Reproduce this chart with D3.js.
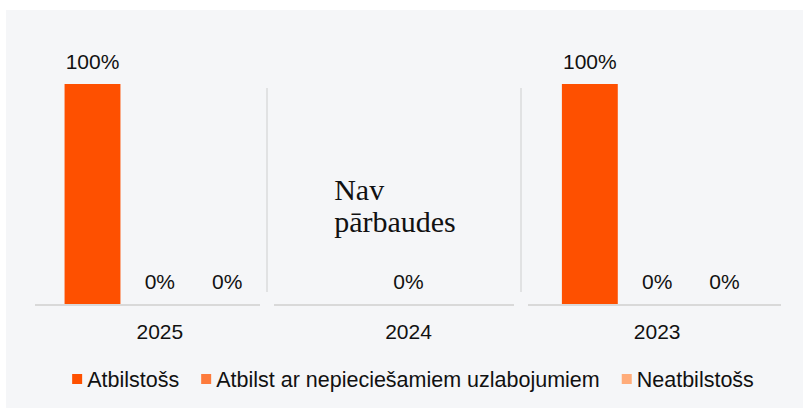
<!DOCTYPE html>
<html>
<head>
<meta charset="utf-8">
<script src="https://cdn.jsdelivr.net/npm/d3@7"></script>
<style>
  html, body { margin: 0; padding: 0; background: #ffffff; }
  svg { display: block; }
  text { font-family: "Liberation Sans", Arial, sans-serif; fill: #111; }
</style>
</head>
<body>
<div id="chart"></div>
<script>
// Category groups (years) and series
const years = ["2025", "2024", "2023"];
const series = ["Atbilstošs", "Atbilst ar nepieciešamiem uzlabojumiem", "Neatbilstošs"];
const colors = ["#fe5000", "#fd7b3c", "#ffac7a"];

// Share per series, per year (null = no value shown)
const values2025 = [1, 0, 0];
const values2024 = [null, 0, null];
const values2023 = [1, 0, 0];
const valuesByYear = [values2025, values2024, values2023];

// Annotation for year without an inspection
const noteYear = "2024";
const noteLines = ["Nav", "pārbaudes"];

const W = 803, H = 408;

const svg = d3.select("#chart")
  .append("svg")
  .attr("width", W)
  .attr("height", H);

// Light panel background
svg.append("rect")
  .attr("x", 6).attr("y", 10)
  .attr("width", W - 6).attr("height", H - 10)
  .attr("fill", "#f5f6f8");

// Scales
const x0 = d3.scaleBand()
  .domain(years)
  .range([35.5, 781.5]);

const x1 = d3.scaleBand()
  .domain(series)
  .range([-101, 101])
  .paddingInner(0.17)
  .paddingOuter(0.085);

const y = d3.scaleLinear()
  .domain([0, 1])
  .range([304, 84]);

const groupCenter = yr => x0(yr) + x0.bandwidth() / 2;

// Panel layout: baselines split around the separators
const panelEdges = [35, 267, 521, 781];
const gap = 7;
for (let i = 0; i < years.length; i++) {
  const a = panelEdges[i] + (i === 0 ? 0 : gap);
  const b = panelEdges[i + 1] - (i === years.length - 1 ? 0 : gap);
  svg.append("line")
    .attr("x1", a).attr("x2", b)
    .attr("y1", y(0) + 1).attr("y2", y(0) + 1)
    .attr("stroke", "#d9d9d9")
    .attr("stroke-width", 2);
}
panelEdges.slice(1, -1).forEach(px => {
  svg.append("line")
    .attr("x1", px).attr("x2", px)
    .attr("y1", 88).attr("y2", 292)
    .attr("stroke", "#dadbdd")
    .attr("stroke-width", 1.5);
});

// Flatten the data into one record per cell
const cells = [];
years.forEach((yr, gi) => {
  series.forEach((s, si) => {
    const v = valuesByYear[gi][si];
    if (v !== null) cells.push({ year: yr, series: s, si, value: v });
  });
});

const bx = d => groupCenter(d.year) + x1(d.series);

// Bars
svg.selectAll(".bar")
  .data(cells.filter(d => d.value > 0))
  .enter()
  .append("rect")
  .attr("class", "bar")
  .attr("x", bx)
  .attr("y", d => y(d.value))
  .attr("width", x1.bandwidth())
  .attr("height", d => y(0) - y(d.value))
  .attr("fill", d => colors[d.si]);

// Value labels
svg.selectAll(".val")
  .data(cells)
  .enter()
  .append("text")
  .attr("class", "val")
  .attr("x", d => bx(d) + x1.bandwidth() / 2)
  .attr("y", d => y(d.value) - 15)
  .attr("text-anchor", "middle")
  .attr("font-size", 21)
  .text(d => d3.format(".0%")(d.value));

// Year labels
svg.selectAll(".year")
  .data(years)
  .enter()
  .append("text")
  .attr("class", "year")
  .attr("x", d => groupCenter(d))
  .attr("y", 339)
  .attr("text-anchor", "middle")
  .attr("font-size", 21)
  .text(d => d);

// Annotation
const note = svg.append("text")
  .attr("x", groupCenter(noteYear) + x1(series[0]) + x1.bandwidth() / 2 - 7)
  .attr("y", 200)
  .style("font-family", "'Liberation Serif', 'Times New Roman', serif")
  .attr("font-size", 30);
noteLines.forEach((t, i) => {
  note.append("tspan")
    .attr("x", note.attr("x"))
    .attr("dy", i === 0 ? 0 : 32)
    .text(t);
});

// Legend, centred under the chart
const legend = svg.append("g");
const items = legend.selectAll("g")
  .data(series)
  .enter()
  .append("g");
items.append("rect")
  .attr("width", 10).attr("height", 10)
  .attr("y", 374)
  .attr("fill", (d, i) => colors[i]);
items.append("text")
  .attr("x", 15)
  .attr("y", 387)
  .attr("font-size", 21.5)
  .text(d => d);

let cx = 0;
items.each(function () {
  const w = 15 + d3.select(this).select("text").node().getComputedTextLength();
  d3.select(this).attr("transform", `translate(${cx},0)`);
  cx += w + 22;
});
const totalW = cx - 22;
legend.attr("transform", `translate(${413 - totalW / 2},0)`);
</script>
</body>
</html>
